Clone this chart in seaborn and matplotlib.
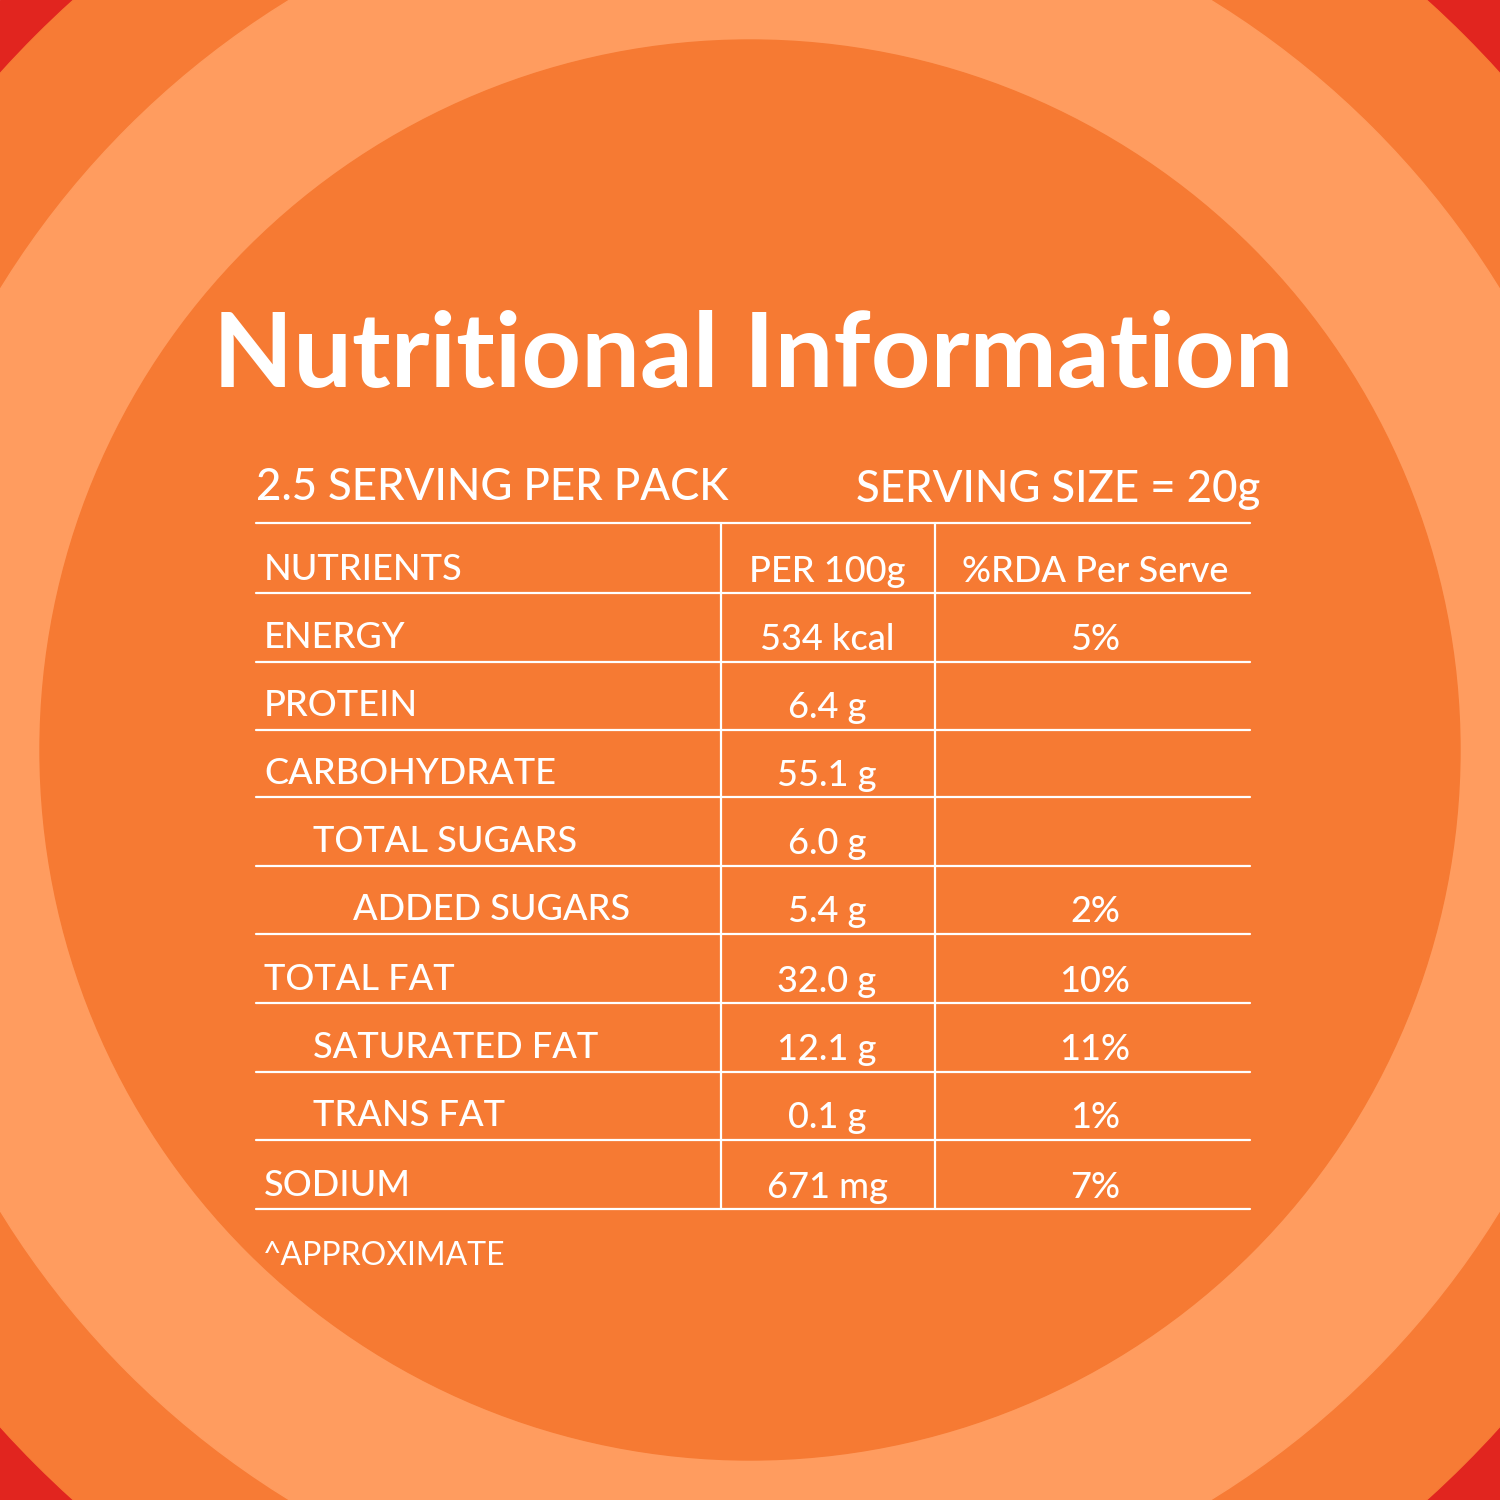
import matplotlib
matplotlib.use("Agg")
import matplotlib.pyplot as plt
import seaborn as sns

# ---- data ----
nutrients = ["NUTRIENTS", "ENERGY", "PROTEIN", "CARBOHYDRATE", "TOTAL SUGARS",
             "ADDED SUGARS", "TOTAL FAT", "SATURATED FAT", "TRANS FAT", "SODIUM"]
indent = [0, 0, 0, 0, 1, 2, 0, 1, 1, 0]
per_100g = ["PER 100g", "534 kcal", "6.4 g", "55.1 g", "6.0 g", "5.4 g",
            "32.0 g", "12.1 g", "0.1 g", "671 mg"]
rda = ["%RDA Per Serve", "5%", "", "", "", "2%", "10%", "11%", "1%", "7%"]

title = "Nutritional Information"
servings = "2.5 SERVING PER PACK"
serving_size = "SERVING SIZE = 20g"
footnote = "^APPROXIMATE"

sns.set_style("white")
plt.rcParams["font.family"] = ["Lato", "DejaVu Sans"]

fig = plt.figure(figsize=(15, 15), dpi=100)
ax = fig.add_axes([0, 0, 1, 1])
ax.set_xlim(0, 1500)
ax.set_ylim(1500, 0)
ax.axis("off")

# background rings
ax.add_patch(plt.Rectangle((0, 0), 1500, 1500, color="#E1251F", zorder=0))
for r, c in [(1010, "#F77B35"), (880, "#FF9C5F"), (710, "#F67A33")]:
    ax.add_patch(plt.Circle((750, 750), r, color=c, zorder=1))

W = "white"
ax.text(753, 357, title, color=W, fontsize=75, fontweight="bold",
        ha="center", va="center", zorder=3)
ax.text(256, 488, servings, color=W, fontsize=31.5, fontweight="medium",
        ha="left", va="center", zorder=3)
ax.text(1260, 490, serving_size, color=W, fontsize=31.5, fontweight="medium",
        ha="right", va="center", zorder=3)

# table lines
top = 523
row_lines = [593, 662, 730, 797, 866, 934, 1003, 1072, 1140, 1209]
indent_px = [0, 49, 89]
lw = 1.6
ax.plot([256, 1250], [top, top], color=W, lw=lw, zorder=3)
for y in row_lines:
    ax.plot([256, 1250], [y, y], color=W, lw=lw, zorder=3)
for x in [721, 935]:
    ax.plot([x, x], [top, row_lines[-1]], color=W, lw=lw, zorder=3)

for i, y in enumerate(row_lines):
    ty = y - 24
    ax.text(264 + indent_px[indent[i]], ty, nutrients[i], color=W, fontsize=26,
            fontweight="medium", ha="left", va="center", zorder=3)
    ax.text(827, ty + 2, per_100g[i], color=W, fontsize=26,
            fontweight="medium", ha="center", va="center", zorder=3)
    ax.text(1095, ty + 2, rda[i], color=W, fontsize=26,
            fontweight="medium", ha="center", va="center", zorder=3)

ax.text(263, 1256, footnote, color=W, fontsize=23, ha="left", va="center", zorder=3)

fig.savefig("out.png", dpi=100)
